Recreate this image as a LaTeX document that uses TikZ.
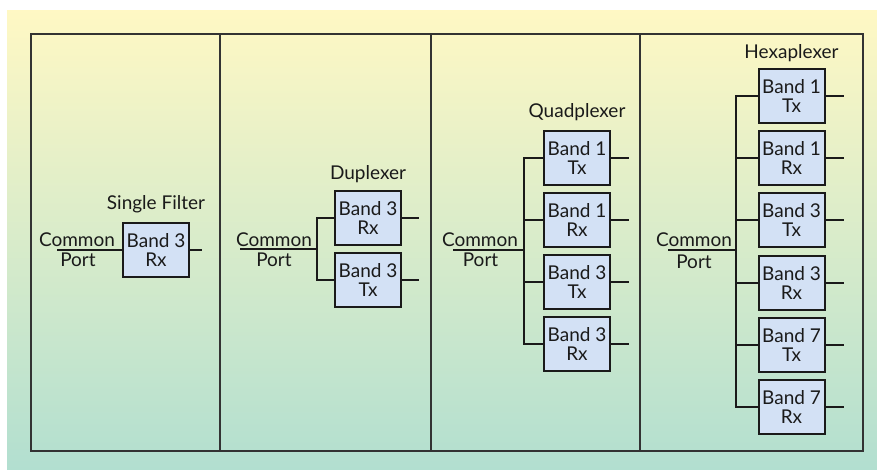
\documentclass[tikz,border=0pt]{standalone}
\usepackage{fontspec}
\setmainfont{Lato}
\usetikzlibrary{positioning}
\definecolor{bgtop}{HTML}{FFF8C4}
\definecolor{bgbot}{HTML}{B2DFD0}
\definecolor{boxblue}{HTML}{D3E1F5}
\definecolor{framegray}{HTML}{333333}
\definecolor{ink}{HTML}{1A1A1A}

\begin{document}
\begin{tikzpicture}[x=1pt, y=-1pt,
  filt/.style={draw=ink, line width=2pt, fill=boxblue, minimum width=66pt,
    minimum height=54pt, inner sep=0pt, align=center, text=ink,
    font=\fontsize{19}{19}\selectfont},
  lbl/.style={inner sep=0pt, text=ink, font=\fontsize{19}{19}\selectfont},
  wire/.style={line width=2pt, draw=ink},
  frame/.style={line width=1.7pt, draw=framegray}
]
\useasboundingbox (0,0) rectangle (877,469);
\shade[top color=bgtop, bottom color=bgbot] (7,10) rectangle (877,469);
\draw[frame] (31,34) rectangle (863,451);
\foreach \x in {220,431,640}
  \draw[frame] (\x,34) -- (\x,451);

% single filter
\node[filt] (sf) at (156,250) {Band 3\\Rx};
\node[lbl, above=13pt of sf, anchor=base] (sflbl) {Single Filter};
\coordinate (sfport) at (57,250);
\draw[wire] (sfport) -- (sf.west);
\draw[wire] (sf.east) -- ++(12,0);
\node[lbl, anchor=base] (sfcom) at (77,246) {Common};
\node[lbl, anchor=base] (sfprt) at (78,266) {Port};

% duplexer
\node[filt] (dx1) at (368,218) {Band 3\\Rx};
\node[filt] (dx2) at (368,280) {Band 3\\Tx};
\node[lbl, above=11pt of dx1, anchor=base] (dxlbl) {Duplexer};
\coordinate (dxbus) at (317,249);
\coordinate (dxport) at (240,249);
\draw[wire] (dx1.west) -| (dxbus) |- (dx2.west);
\draw[wire] (dxport) -- (dxbus);
\foreach \n in {dx1,dx2}
  \draw[wire] (\n.east) -- ++(17,0);
\node[lbl, anchor=base] (dxcom) at (274,246) {Common};
\node[lbl, anchor=base] (dxprt) at (274,266.5) {Port};

% quadplexer
\foreach \i/\b/\d in {1/1/Tx, 2/1/Rx, 3/3/Tx, 4/3/Rx}
  \node[filt] (qx\i) at (577,{95.5+62*\i}) {Band \b\\\d};
\node[lbl, above=12pt of qx1, anchor=base] (qxlbl) {Quadplexer};
\coordinate (qxbus) at (524,250);
\coordinate (qxport) at (453,250);
\draw[wire] (qx1.west) -| (qxbus) |- (qx4.west);
\foreach \i in {2,3}
  \draw[wire] (qx\i.west) -- (qx\i.west -| qxbus);
\draw[wire] (qxport) -- (qxbus);
\foreach \i in {1,...,4}
  \draw[wire] (qx\i.east) -- ++(18,0);
\node[lbl, anchor=base] (qxcom) at (480,246) {Common};
\node[lbl, anchor=base] (qxprt) at (480.5,266.5) {Port};

% hexaplexer
\foreach \i/\b/\d in {1/1/Tx, 2/1/Rx, 3/3/Tx, 4/3/Rx, 5/7/Tx, 6/7/Rx}
  \node[filt] (hx\i) at (791.5,{33.8+62.2*\i}) {Band \b\\\d};
\node[lbl, above=10pt of hx1, anchor=base] (hxlbl) {Hexaplexer};
\coordinate (hxbus) at (736,250);
\coordinate (hxport) at (668,250);
\draw[wire] (hx1.west) -| (hxbus) |- (hx6.west);
\foreach \i in {2,...,5}
  \draw[wire] (hx\i.west) -- (hx\i.west -| hxbus);
\draw[wire] (hxport) -- (hxbus);
\foreach \i in {1,...,6}
  \draw[wire] (hx\i.east) -- ++(18,0);
\node[lbl, anchor=base] (hxcom) at (694,246) {Common};
\node[lbl, anchor=base] (hxprt) at (694,268) {Port};
\end{tikzpicture}
\end{document}
